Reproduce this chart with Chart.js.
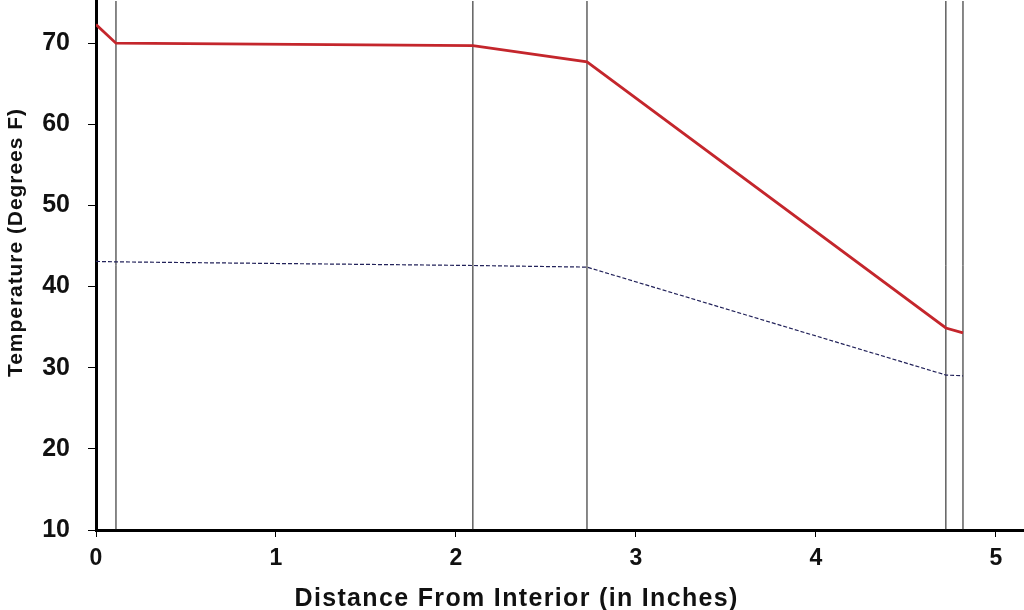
<!DOCTYPE html>
<html>
<head>
<meta charset="utf-8">
<script src="https://cdn.jsdelivr.net/npm/chart.js@4.4.1/dist/chart.umd.min.js"></script>
<style>
html,body{margin:0;padding:0;background:#fff;}
#wrap{width:1024px;height:610px;position:relative;}
</style>
</head>
<body>
<div id="wrap"><canvas id="c" width="1024" height="610"></canvas></div>
<script>
// Data
const distances = [0, 0.111, 2.094, 2.728, 4.722, 4.817];
const temperature = [72.3, 70.0, 69.7, 67.7, 34.9, 34.3];
const dewPoint = [43.1, 43.05, 42.6, 42.4, 29.1, 29.0];
const layerBoundaries = [0.111, 2.094, 2.728, 4.722, 4.817];
const yTicks = [10, 20, 30, 40, 50, 60, 70];
const xTicks = [0, 1, 2, 3, 4, 5];
const xTitle = 'Distance From Interior (in Inches)';
const yTitle = 'Temperature (Degrees F)';

const Y_MIN = 10, Y_MAX = 75.2, X_MIN = 0, X_MAX = 5.156;
const FONT = '"Liberation Sans", Arial, sans-serif';

const datasets = [];
layerBoundaries.forEach(b => {
  datasets.push({
    data: [{x: b, y: Y_MIN}, {x: b, y: Y_MAX}],
    showLine: true, borderColor: '#111', borderWidth: 1,
    pointRadius: 0, order: 3
  });
});
datasets.push({
  data: distances.map((d, i) => ({x: d, y: dewPoint[i]})),
  showLine: true, borderColor: '#22225a', borderWidth: 1.2, borderDash: [4, 2],
  pointRadius: 0, order: 2
});
datasets.push({
  data: distances.map((d, i) => ({x: d, y: temperature[i]})),
  showLine: true, borderColor: '#c4262c', borderWidth: 2.8,
  pointRadius: 0, order: 1
});

function spacedText(ctx, text, cx, y, targetWidth) {
  ctx.letterSpacing = '0px';
  const w = ctx.measureText(text).width;
  const sp = Math.max(0, (targetWidth - w) / (text.length - 1));
  ctx.letterSpacing = sp.toFixed(2) + 'px';
  ctx.textAlign = 'left';
  ctx.fillText(text, cx - targetWidth / 2, y);
  ctx.letterSpacing = '0px';
}

const titlePlugin = {
  id: 'axisTitles',
  afterDraw(chart) {
    const ctx = chart.ctx;
    ctx.save();
    ctx.fillStyle = '#111';
    ctx.textBaseline = 'alphabetic';
    ctx.font = 'bold 25px ' + FONT;
    spacedText(ctx, xTitle, 516, 606, 443);
    ctx.translate(22, 243);
    ctx.rotate(-Math.PI / 2);
    ctx.font = 'bold 21px ' + FONT;
    spacedText(ctx, yTitle, 0, 0, 268);
    ctx.restore();
  }
};

new Chart(document.getElementById('c'), {
  type: 'scatter',
  data: { datasets },
  options: {
    responsive: false,
    animation: false,
    layout: { padding: { top: 1, right: 0, left: 0, bottom: 0 } },
    plugins: { legend: { display: false }, tooltip: { enabled: false } },
    scales: {
      x: {
        type: 'linear', min: X_MIN, max: X_MAX,
        afterBuildTicks: s => { s.ticks = xTicks.map(v => ({value: v})); },
        afterFit: s => { s.height = 80; s.paddingLeft = 0; s.paddingRight = 0; },
        border: { display: true, color: '#000', width: 3 },
        grid: { display: true, drawOnChartArea: false, drawTicks: true, tickLength: 7, color: '#000', tickColor: '#000', lineWidth: 1 },
        ticks: { color: '#111', padding: 8, maxRotation: 0, font: { family: FONT, size: 23, weight: 'bold' }, callback: v => String(v) }
      },
      y: {
        type: 'linear', min: Y_MIN, max: Y_MAX,
        afterBuildTicks: s => { s.ticks = yTicks.map(v => ({value: v})); },
        afterFit: s => { s.width = 96; s.paddingTop = 0; s.paddingBottom = 0; },
        border: { display: true, color: '#000', width: 3 },
        grid: { display: true, drawOnChartArea: false, drawTicks: true, tickLength: 8, color: '#000', tickColor: '#000', lineWidth: 1 },
        ticks: { color: '#111', padding: 18, font: { family: FONT, size: 25, weight: 'bold' }, callback: v => String(v) }
      }
    }
  },
  plugins: [titlePlugin]
});
</script>
</body>
</html>
